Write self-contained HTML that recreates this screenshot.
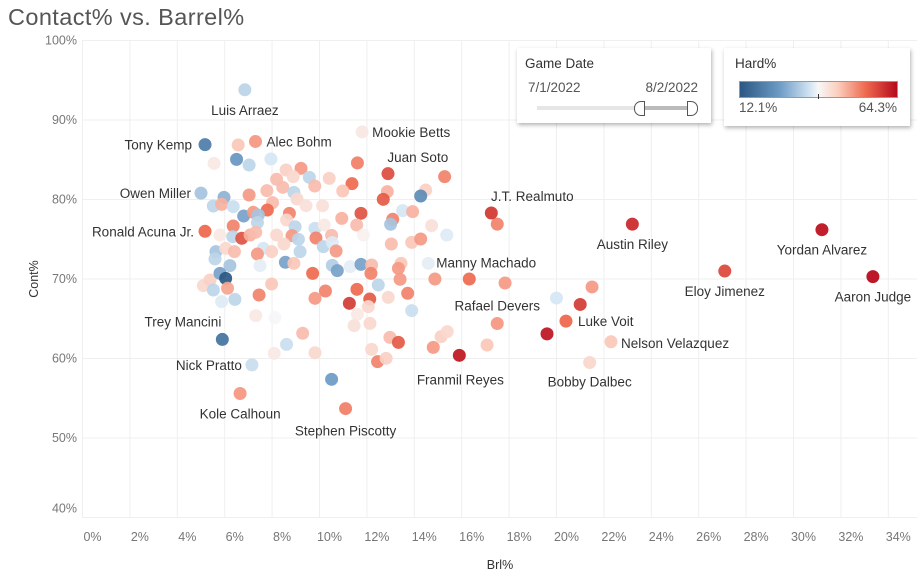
<!DOCTYPE html>
<html><head><meta charset="utf-8">
<style>
body{margin:0;background:#fff;font-family:"Liberation Sans",sans-serif;}
#wrap{position:relative;width:917px;height:577px;overflow:hidden;}
svg text{font-family:"Liberation Sans",sans-serif;}
.box{position:absolute;background:#fff;box-shadow:1px 2px 4px rgba(0,0,0,0.3);}
</style></head>
<body>
<div id="wrap">
<svg id="chart" width="917" height="577">
<text x="8" y="25" font-size="23.5" letter-spacing="0.4" fill="#555">Contact% vs. Barrel%</text>
<g id="grid"></g>
<g id="axes"></g>
<g id="dots"></g>
<g id="labels"></g>
<text x="0" y="0" transform="translate(38,279) rotate(-90)" text-anchor="middle" font-size="12.5" fill="#333">Cont%</text>
<text x="500" y="569" text-anchor="middle" font-size="12.5" fill="#333">Brl%</text>
</svg>
<div class="box" style="left:517px;top:48px;width:194px;height:75px;">
 <div style="position:absolute;left:8px;top:8px;font-size:13.5px;color:#333;">Game Date</div>
 <div style="position:absolute;left:11px;top:32px;font-size:13.5px;color:#555;">7/1/2022</div>
 <div style="position:absolute;right:13px;top:32px;font-size:13.5px;color:#555;">8/2/2022</div>
 <div style="position:absolute;left:20px;top:58px;width:160px;height:4px;background:#e6e6e6;"></div>
 <div style="position:absolute;left:125px;top:58px;width:50px;height:4px;background:#bbb;"></div>
 <div style="position:absolute;left:117px;top:53px;width:9px;height:13px;border:1px solid #555;border-radius:7px 0 0 7px;background:#fff;"></div>
 <div style="position:absolute;left:170px;top:53px;width:9px;height:13px;border:1px solid #555;border-radius:0 7px 7px 0;background:#fff;"></div>
</div>
<div class="box" style="left:724px;top:48px;width:186px;height:78px;">
 <div style="position:absolute;left:11px;top:8px;font-size:13.5px;color:#333;">Hard%</div>
 <div style="position:absolute;left:15px;top:33px;width:157px;height:15px;border:1px solid #999;background:linear-gradient(to right,#2a5783,#6b9ac4 25%,#d5e6f4 45%,#f7f7f7 50%,#fbd0c0 62%,#ee6a4f 80%,#b60a1c);"></div>
 <div style="position:absolute;left:94px;top:46px;width:1px;height:5px;background:#333;"></div>
 <div style="position:absolute;left:15px;top:52px;font-size:13.5px;color:#555;">12.1%</div>
 <div style="position:absolute;right:13px;top:52px;font-size:13.5px;color:#555;">64.3%</div>
</div>
</div>
<script>
const xTicks=[0,2,4,6,8,10,12,14,16,18,20,22,24,26,28,30,32,34];
const yTicks=[40,50,60,70,80,90,100];
const brl=[6.57,5.55,6.50,7.03,7.95,12.89,15.28,9.22,8.59,8.19,8.89,9.57,10.41,11.37,9.80,8.45,10.98,12.86,12.69,14.48,14.27,8.92,7.03,7.78,5.97,5.52,5.87,6.36,9.05,8.02,9.43,10.13,11.75,10.94,13.51,13.93,13.09,13.00,6.80,7.21,7.80,7.42,7.38,8.73,8.61,8.97,9.81,10.20,11.57,14.73,15.37,6.36,5.80,6.34,6.72,7.07,7.31,8.19,8.84,9.11,9.85,10.51,11.85,13.03,13.89,14.27,5.63,6.04,6.41,7.63,7.98,8.50,9.18,10.16,10.54,10.70,7.38,5.59,6.22,7.49,8.56,8.92,10.54,10.75,11.29,11.75,12.20,12.17,13.44,13.33,13.40,14.87,5.10,5.38,5.52,5.80,6.04,6.12,7.98,9.71,7.45,10.25,9.81,11.58,12.12,11.26,12.48,12.90,13.72,12.06,5.87,6.43,7.31,8.12,11.60,11.46,12.13,13.89,9.29,8.61,9.81,8.09,12.97,13.33,12.20,12.45,12.81,14.80,15.13,15.39,10.51,16.32,17.83,17.07,19.6,21.0,21.5,20.0,17.5];
const cont=[86.86,84.55,85.05,84.34,85.09,83.25,82.87,83.92,83.71,82.54,82.87,82.79,82.66,81.99,81.70,81.53,81.07,80.99,80.02,81.19,80.44,80.90,80.57,81.11,80.27,79.18,79.39,79.10,80.06,79.60,79.22,79.22,78.26,77.63,78.60,78.47,77.51,76.88,77.92,78.39,78.68,78.05,77.09,78.26,77.42,76.58,76.37,76.79,76.79,76.71,75.53,76.67,75.53,75.32,75.12,75.53,75.87,75.53,75.45,74.99,75.16,75.49,75.53,74.40,74.61,75.03,73.44,73.86,73.44,73.86,73.44,74.40,73.44,74.07,74.57,73.52,73.14,72.52,71.68,71.68,72.10,71.97,71.72,71.05,71.55,71.84,71.76,70.71,71.97,71.34,69.96,70.00,69.16,69.87,68.62,70.71,70.08,68.83,69.37,70.71,67.99,68.49,67.57,68.70,67.48,66.94,69.25,67.69,68.20,66.52,67.15,67.44,65.39,65.14,65.56,64.13,64.42,66.02,63.17,61.78,60.73,60.65,62.66,62.03,61.15,59.60,60.02,61.40,62.75,63.38,57.38,70.0,69.5,61.7,63.1,66.8,69.0,67.6,76.9];
const hard=[44,40,24,32,34,56,50,48,43,45,42,32,43,52,45,45,44,46,54,43,22,32,48,45,28,32,46,33,42,45,41,41,55,46,34,46,50,30,26,48,52,30,32,50,42,32,33,40,45,41,35,50,40,32,55,46,45,42,48,32,50,45,39,45,44,48,30,42,45,34,43,42,32,32,35,48,48,32,30,36,26,44,31,26,36,26,45,50,44,48,48,48,42,43,32,26,12,47,44,52,50,50,48,52,54,58,32,42,50,42,35,32,40,38,40,41,42,33,45,33,42,40,45,54,42,50,43,48,43,42,25,52,48,44,63,58,48,34,50];
const names=["Luis Arraez","Tony Kemp","Alec Bohm","Mookie Betts","Juan Soto","Owen Miller","Ronald Acuna Jr.","J.T. Realmuto","Austin Riley","Yordan Alvarez","Eloy Jimenez","Aaron Judge","Manny Machado","Rafael Devers","Luke Voit","Nelson Velazquez","Bobby Dalbec","Franmil Reyes","Trey Mancini","Nick Pratto","Kole Calhoun","Stephen Piscotty"];
const nBrl=[6.85,5.17,7.3,11.8,11.6,5.0,5.17,17.25,23.2,31.2,27.1,33.35,14.59,17.5,20.4,22.3,21.4,15.9,5.9,7.15,6.65,11.1];
const nCont=[93.8,86.9,87.3,88.5,84.6,80.8,76.0,78.3,76.9,76.2,71.0,70.3,71.97,64.4,64.7,62.1,59.5,60.4,62.4,59.2,55.6,53.7];
const nHard=[32,20,48,40,50,30,52,58,60,63,56,64,36,48,52,44,42,62,18,33,48,50];
// label placement (styling): [dx, dy, anchor]
const lblPos=[[0,25,'middle'],[-13,5,'end'],[11,5,'start'],[10,5,'start'],[30,-1,'start'],[-10,5,'end'],[-11,5,'end'],[41,-12,'middle'],[0,25,'middle'],[0,25,'middle'],[0,25,'middle'],[0,25,'middle'],[8,4,'start'],[0,-13,'middle'],[12,5,'start'],[10,6,'start'],[0,24,'middle'],[1,29,'middle'],[-1,-13,'end'],[-10,5,'end'],[0,25,'middle'],[0,27,'middle']];

const NS='http://www.w3.org/2000/svg';
const X=v=>82.5+v*23.7;
const Y=v=>40.5+(100-v)*7.95;
const stops=[[12,[42,87,131]],[25,[107,154,196]],[34,[213,230,244]],[38.2,[247,247,247]],[44,[251,200,185]],[52,[238,106,79]],[64.3,[182,10,28]]];
function col(h){
 if(h<=stops[0][0])return 'rgb('+stops[0][1]+')';
 for(let i=1;i<stops.length;i++){if(h<=stops[i][0]){const a=stops[i-1],b=stops[i],t=(h-a[0])/(b[0]-a[0]);return 'rgb('+a[1].map((c,k)=>Math.round(c+(b[1][k]-c)*t)).join(',')+')';}}
 return 'rgb('+stops[stops.length-1][1]+')';
}
function mk(tag,attrs,parent){const e=document.createElementNS(NS,tag);for(const k in attrs)e.setAttribute(k,attrs[k]);parent.appendChild(e);return e;}
const grid=document.getElementById('grid'),axes=document.getElementById('axes'),dots=document.getElementById('dots'),labels=document.getElementById('labels');
xTicks.forEach(t=>{
 const l=mk('line',{x1:X(t),x2:X(t),y1:40,y2:518,stroke:'#efefef'},grid);
 
 
 const tx=mk('text',{x:X(t)+10,y:541,'text-anchor':'middle','font-size':12.5,fill:'#777'},axes);
 tx.textContent=t+'%';
 
 
});
yTicks.forEach(t=>{
 const l=mk('line',{x1:82,x2:917,y1:Y(t),y2:Y(t),stroke:'#efefef'},grid);
 
 
 const tx=mk('text',{x:77,y:(t===40?Y(t)-5:Y(t)+4),'text-anchor':'end','font-size':12.5,fill:'#777'},axes);
 tx.textContent=t+'%';
 
 
});
brl.forEach((b,i)=>{
 const c=mk('circle',{cx:X(b),cy:Y(cont[i]),r:6.5,fill:col(hard[i]),'fill-opacity':0.92},dots);
 
 
});
nBrl.forEach((b,i)=>{
 const cx=X(b),cy=Y(nCont[i]);
 const c=mk('circle',{cx:cx,cy:cy,r:6.5,fill:col(nHard[i]),'fill-opacity':0.95},dots);
 
 
 const p=lblPos[i];
 const t=mk('text',{x:cx+p[0],y:cy+p[1],'text-anchor':p[2],'font-size':13.5,fill:'#333'},labels);
 t.textContent=names[i];
 
 
});
</script>
</body></html>
